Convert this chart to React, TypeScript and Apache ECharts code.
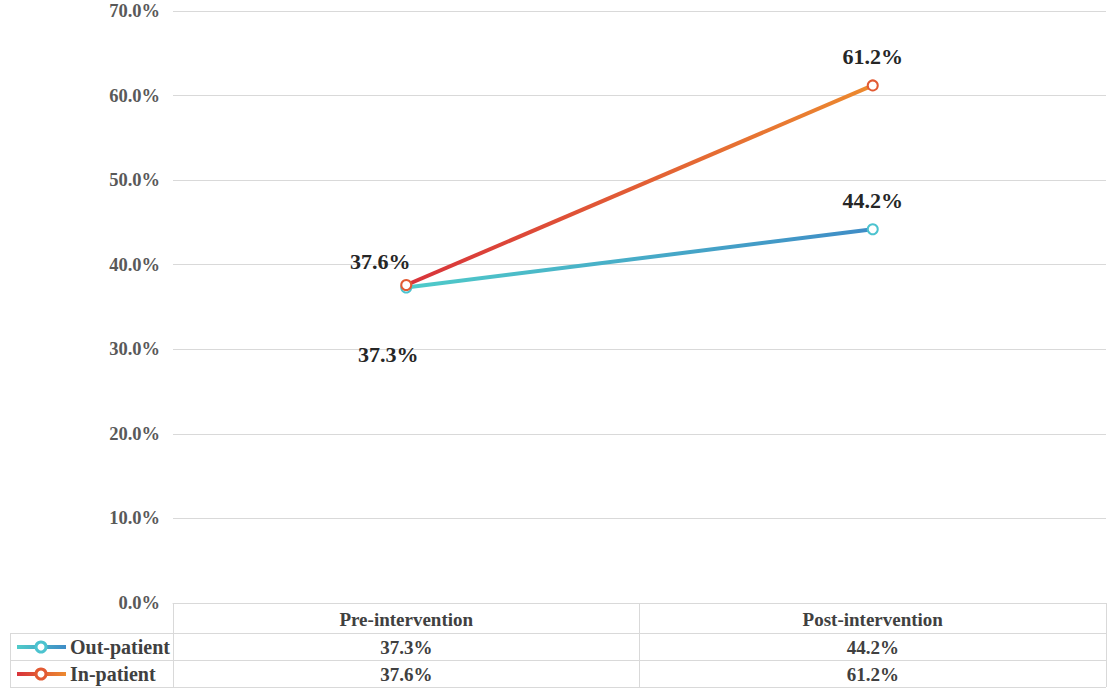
import React, { useEffect, useRef } from "react";
import * as echarts from "echarts";

const categories = ["Pre-intervention", "Post-intervention"];
const seriesNames = ["Out-patient", "In-patient"];
const outPatient = [37.3, 44.2];
const inPatient = [37.6, 61.2];
const yTicks = { min: 0, max: 70, interval: 10 };

const FONT = "'Liberation Serif', 'DejaVu Serif', serif";
const W = 1112;
const H = 693;
const GRID_L = 173;
const GRID_R = 6;
const GRID_T = 11;
const GRID_B = 90;
const ROW_H = 27;
const HEAD_H = 30;
const TABLE_L = 10;
const GRIDLINE = "#d9d9d9";

const gradOut = () =>
  new echarts.graphic.LinearGradient(0, 0, 1, 0, [
    { offset: 0, color: "#4fcbc9" },
    { offset: 1, color: "#3f8cc6" },
  ]);
const gradIn = () =>
  new echarts.graphic.LinearGradient(0, 0, 1, 0, [
    { offset: 0, color: "#d8333b" },
    { offset: 1, color: "#ec8a2f" },
  ]);

export default function App() {
  const ref = useRef<HTMLDivElement>(null);
  useEffect(() => {
    if (!ref.current) return;
    const chart = echarts.init(ref.current, undefined, { renderer: "svg" });
    const fmt = (v: number) => v.toFixed(1) + "%";
    const labelBase = {
      show: true,
      fontFamily: FONT,
      fontWeight: "bold" as const,
      fontSize: 22,
      color: "#262626",
      formatter: (p: any) => fmt(p.value),
    };
    chart.setOption({
      animation: false,
      grid: { left: GRID_L, right: GRID_R, top: GRID_T, bottom: GRID_B },
      xAxis: {
        type: "category",
        data: categories,
        boundaryGap: true,
        axisLine: { show: true, lineStyle: { color: GRIDLINE, width: 1 } },
        axisTick: {
          show: true,
          length: HEAD_H + ROW_H * 2,
          inside: false,
          lineStyle: { color: GRIDLINE, width: 1 },
        },
        axisLabel: {
          margin: 7,
          fontFamily: FONT,
          fontWeight: "bold",
          fontSize: 19,
          color: "#404040",
        },
      },
      yAxis: {
        type: "value",
        min: yTicks.min,
        max: yTicks.max,
        interval: yTicks.interval,
        axisLine: { show: false },
        axisTick: { show: false },
        splitLine: { lineStyle: { color: GRIDLINE, width: 1 } },
        axisLabel: {
          margin: 13,
          fontFamily: FONT,
          fontWeight: "bold",
          fontSize: 18.5,
          color: "#595959",
          formatter: (v: number) => fmt(v),
        },
      },
      series: [
        {
          name: seriesNames[0],
          type: "line",
          data: outPatient.map((v, i) => ({
            value: v,
            label:
              i === 0
                ? { ...labelBase, position: "bottom", distance: 50, offset: [-18, 0] }
                : { ...labelBase, position: "top", distance: 12 },
          })),
          symbol: "emptyCircle",
          symbolSize: 10,
          lineStyle: { width: 4, color: gradOut() },
          itemStyle: { color: "#4cc3cf", borderWidth: 3 },
          z: 2,
        },
        {
          name: seriesNames[1],
          type: "line",
          data: inPatient.map((v, i) => ({
            value: v,
            label:
              i === 0
                ? { ...labelBase, position: "top", distance: 7, offset: [-26, 0] }
                : { ...labelBase, position: "top", distance: 12 },
          })),
          symbol: "emptyCircle",
          symbolSize: 10,
          lineStyle: { width: 4, color: gradIn() },
          itemStyle: { color: "#e25a33", borderWidth: 3 },
          z: 3,
        },
      ],
    });

    const axisY = H - GRID_B;
    const rowTop = axisY + HEAD_H;
    const right = W - GRID_R;
    const graphics: any[] = [];
    [rowTop, rowTop + ROW_H, rowTop + ROW_H * 2].forEach((y) => {
      graphics.push({
        type: "line",
        shape: { x1: TABLE_L, y1: y + 0.5, x2: right, y2: y + 0.5 },
        style: { stroke: GRIDLINE, lineWidth: 1 },
      });
    });
    graphics.push({
      type: "line",
      shape: { x1: TABLE_L + 0.5, y1: rowTop, x2: TABLE_L + 0.5, y2: rowTop + ROW_H * 2 },
      style: { stroke: GRIDLINE, lineWidth: 1 },
    });
    const allSeries = [outPatient, inPatient];
    const grads = [gradOut, gradIn];
    const markColors = ["#4cc3cf", "#e25a33"];
    allSeries.forEach((vals, r) => {
      const cy = rowTop + ROW_H * r + ROW_H / 2 + 0.5;
      graphics.push({
        type: "rect",
        shape: { x: 17, y: cy - 2, width: 49, height: 4 },
        style: { fill: grads[r]() },
      });
      graphics.push({
        type: "circle",
        shape: { cx: 41, cy, r: 5 },
        style: { fill: "#fff", stroke: markColors[r], lineWidth: 3 },
      });
      graphics.push({
        type: "text",
        x: 70,
        y: cy,
        style: {
          text: seriesNames[r],
          fontFamily: FONT,
          fontWeight: "bold",
          fontSize: 20,
          fill: "#404040",
          verticalAlign: "middle",
        },
      });
      vals.forEach((v, c) => {
        const px = chart.convertToPixel({ xAxisIndex: 0 }, categories[c]) as number;
        graphics.push({
          type: "text",
          x: px,
          y: cy,
          style: {
            text: fmt(v),
            fontFamily: FONT,
            fontWeight: "bold",
            fontSize: 19,
            fill: "#404040",
            align: "center",
            verticalAlign: "middle",
          },
        });
      });
    });
    chart.setOption({ graphic: graphics });
    return () => chart.dispose();
  }, []);
  return (
    <div
      ref={ref}
      style={{ position: "fixed", left: 0, top: 0, width: W, height: H, background: "#fff" }}
    />
  );
}
